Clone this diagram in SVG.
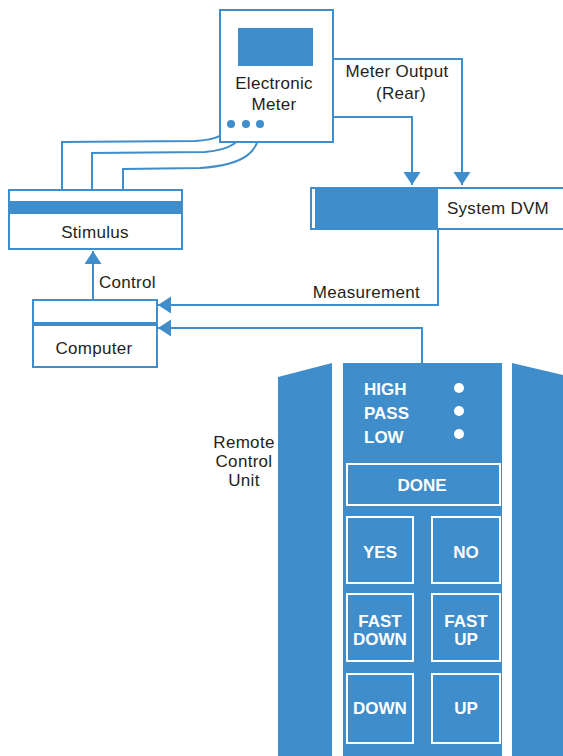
<svg xmlns="http://www.w3.org/2000/svg" width="563" height="756" viewBox="0 0 563 756">
<defs>
<marker id="ah" markerUnits="userSpaceOnUse" markerWidth="14" markerHeight="18" refX="13" refY="8.5" orient="auto">
<path d="M0,0 L13,8.5 L0,17 z" fill="#3f8ecb"/>
</marker>
<style>
.ln{fill:none;stroke:#3f8ecb;stroke-width:2}
.box{fill:#fff;stroke:#3f8ecb;stroke-width:2}
.fill{fill:#3f8ecb}
.lbl{font-family:"Liberation Sans",Arial,sans-serif;font-size:17px;fill:#231f20;letter-spacing:0.3px}
.btn{fill:none;stroke:#fff;stroke-width:2}
.bt{font-family:"Liberation Sans",Arial,sans-serif;font-size:17px;font-weight:bold;fill:#fff;text-anchor:middle}
.bl{font-family:"Liberation Sans",Arial,sans-serif;font-size:17px;font-weight:bold;fill:#fff;text-anchor:start}
</style>
</defs>
<rect width="563" height="756" fill="#fff"/>

<g id="connectors">
<path class="ln" d="M333,59 L462,59 L462,185" marker-end="url(#ah)"/>
<path class="ln" d="M333,117 L412,117 L412,185" marker-end="url(#ah)"/>
<path class="ln" d="M231,124 C228,135 215,140 195,141 L62,142 L62,190"/>
<path class="ln" d="M246,124 C243,142 230,150 205,152 L92,153 L92,190"/>
<path class="ln" d="M260,124 C261,152 245,165 200,168 L123,169 L123,190"/>
<path class="ln" d="M93,300 L93,251" marker-end="url(#ah)"/>
<path class="ln" d="M438,229 L438,305 L158,305" marker-end="url(#ah)"/>
<path class="ln" d="M422,363 L422,328 L158,328" marker-end="url(#ah)"/>
<text class="lbl" x="397" y="77" text-anchor="middle">Meter Output</text>
<text class="lbl" x="401" y="99" text-anchor="middle">(Rear)</text>
<text class="lbl" x="99" y="288">Control</text>
<text class="lbl" x="420" y="298" text-anchor="end">Measurement</text>
</g>

<g id="meter">
<rect class="box" x="220" y="10" width="113" height="132"/>
<rect class="fill" x="238" y="28" width="75" height="38"/>
<text class="lbl" x="274" y="89" text-anchor="middle">Electronic</text>
<text class="lbl" x="274" y="110" text-anchor="middle">Meter</text>
<circle class="fill" cx="231" cy="124" r="4"/>
<circle class="fill" cx="246" cy="124" r="4"/>
<circle class="fill" cx="260" cy="124" r="4"/>
</g>

<g id="stimulus">
<rect class="box" x="9" y="190" width="173" height="59"/>
<rect class="fill" x="9" y="201" width="173" height="13"/>
<text class="lbl" x="95" y="238" text-anchor="middle">Stimulus</text>
</g>

<g id="dvm">
<rect class="box" x="311" y="188" width="253" height="41"/>
<rect class="fill" x="315" y="188" width="123" height="41"/>
<text class="lbl" x="498" y="214" text-anchor="middle">System DVM</text>
</g>

<g id="computer">
<rect class="box" x="33" y="300" width="124" height="67"/>
<rect class="fill" x="33" y="322" width="124" height="4"/>
<text class="lbl" x="94" y="354" text-anchor="middle">Computer</text>
</g>

<g id="remote">
<text class="lbl" x="244" y="448" text-anchor="middle">Remote</text>
<text class="lbl" x="244" y="467" text-anchor="middle">Control</text>
<text class="lbl" x="244" y="486" text-anchor="middle">Unit</text>
<polygon class="fill" points="278,377 332,363 332,756 278,756"/>
<polygon class="fill" points="512,363 563,375 563,756 512,756"/>
<rect class="fill" x="343" y="363" width="159" height="393"/>
<text class="bl" x="364" y="395">HIGH</text>
<text class="bl" x="364" y="419">PASS</text>
<text class="bl" x="364" y="443">LOW</text>
<circle cx="459" cy="388" r="5" fill="#fff"/>
<circle cx="459" cy="411" r="5" fill="#fff"/>
<circle cx="459" cy="434" r="5" fill="#fff"/>
<rect class="btn" x="347" y="464" width="153" height="41"/>
<text class="bt" x="422" y="491">DONE</text>
<rect class="btn" x="347" y="517" width="66" height="66"/>
<text class="bt" x="380" y="558">YES</text>
<rect class="btn" x="432" y="517" width="68" height="66"/>
<text class="bt" x="466" y="558">NO</text>
<rect class="btn" x="347" y="594" width="66" height="67"/>
<text class="bt" x="380" y="627">FAST</text>
<text class="bt" x="380" y="645">DOWN</text>
<rect class="btn" x="432" y="594" width="68" height="67"/>
<text class="bt" x="466" y="627">FAST</text>
<text class="bt" x="466" y="645">UP</text>
<rect class="btn" x="347" y="674" width="66" height="69"/>
<text class="bt" x="380" y="714">DOWN</text>
<rect class="btn" x="432" y="674" width="68" height="69"/>
<text class="bt" x="466" y="714">UP</text>
</g>
</svg>
